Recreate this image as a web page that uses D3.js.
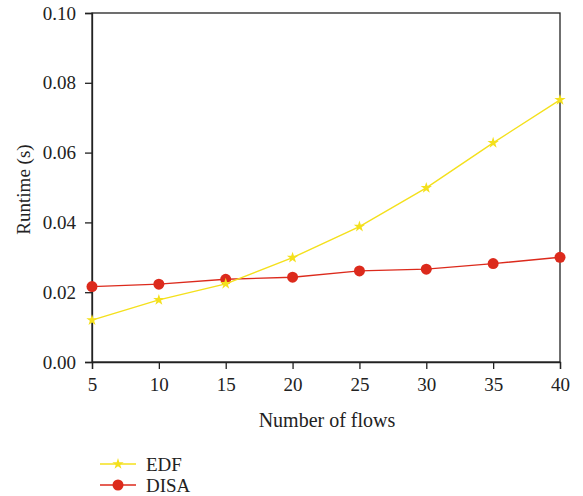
<!DOCTYPE html>
<html>
<head>
<meta charset="utf-8">
<script src="https://cdn.jsdelivr.net/npm/d3@7"></script>
<style>
  body { margin: 0; background: #fff; }
</style>
</head>
<body>
<svg id="chart"></svg>
<script>
// Chart data
const flows = [5, 10, 15, 20, 25, 30, 35, 40];
const edfRuntime = [0.0120, 0.0178, 0.0224, 0.0299, 0.0388, 0.0499, 0.0628, 0.0751];
const disaRuntime = [0.0216, 0.0223, 0.0237, 0.0243, 0.0261, 0.0266, 0.0282, 0.0300];
const yTicks = [0.00, 0.02, 0.04, 0.06, 0.08, 0.10];

const serif = '"Liberation Serif", "Times New Roman", serif';
const width = 583, height = 496;
const margin = { top: 13, right: 23, bottom: 134, left: 92 };
const innerWidth = width - margin.left - margin.right;
const innerHeight = height - margin.top - margin.bottom;

const svg = d3.select('#chart').attr('width', width).attr('height', height);
const g = svg.append('g').attr('transform', `translate(${margin.left}, ${margin.top})`);

const xScale = d3.scaleLinear().domain([5, 40]).range([0, innerWidth]);
const yScale = d3.scaleLinear().domain([0, 0.10]).range([innerHeight, 0]);

// Frame
g.append('rect')
  .attr('width', innerWidth).attr('height', innerHeight)
  .attr('fill', 'none').attr('stroke', '#222').attr('stroke-width', 1.3);

// Axes
const xAxis = g.append('g')
  .attr('transform', `translate(0, ${innerHeight})`)
  .call(d3.axisBottom(xScale).tickValues(flows).tickSize(7).tickPadding(9).tickFormat(d3.format('d')));
const yAxis = g.append('g')
  .call(d3.axisLeft(yScale).tickValues(yTicks).tickSize(7).tickPadding(9).tickFormat(d3.format('.2f')));

[xAxis, yAxis].forEach(a => {
  a.attr('font-family', serif).attr('font-size', 19);
  a.select('.domain').attr('stroke', '#222').attr('stroke-width', 1.3);
  a.selectAll('.tick line').attr('stroke', '#222').attr('stroke-width', 1.3);
  a.selectAll('text').style('font-family', serif).style('font-size', '19px').attr('fill', '#222');
});

// Axis titles
svg.append('text')
  .attr('x', margin.left + innerWidth / 2 + 1).attr('y', 427)
  .attr('text-anchor', 'middle')
  .style('font-family', serif).style('font-size', '20px').attr('fill', '#222')
  .text('Number of flows');
svg.append('text')
  .attr('transform', `translate(30, ${margin.top + innerHeight / 2 + 2}) rotate(-90)`)
  .attr('text-anchor', 'middle')
  .style('font-family', serif).style('font-size', '19px').attr('fill', '#222')
  .text('Runtime (s)');

const yellow = '#f4e01c', red = '#dc2a1c';

const line = d3.line().x((d, i) => xScale(flows[i])).y(d => yScale(d));

// DISA series
g.append('path').datum(disaRuntime).attr('d', line)
  .attr('fill', 'none').attr('stroke', red).attr('stroke-width', 1.4);
g.selectAll('.disa-dot').data(disaRuntime).enter().append('circle')
  .attr('class', 'disa-dot')
  .attr('cx', (d, i) => xScale(flows[i])).attr('cy', d => yScale(d))
  .attr('r', 5.5).attr('fill', red);

// EDF series
const star = d3.symbol().type(d3.symbolStar).size(40);
g.append('path').datum(edfRuntime).attr('d', line)
  .attr('fill', 'none').attr('stroke', yellow).attr('stroke-width', 1.4);
g.selectAll('.edf-dot').data(edfRuntime).enter().append('path')
  .attr('class', 'edf-dot')
  .attr('transform', (d, i) => `translate(${xScale(flows[i])}, ${yScale(d)})`)
  .attr('d', star).attr('fill', yellow);

// Legend
const legend = svg.append('g').attr('transform', 'translate(100, 464)');
const items = [
  { name: 'EDF', color: yellow, marker: 'star' },
  { name: 'DISA', color: red, marker: 'circle' }
];
items.forEach((it, i) => {
  const row = legend.append('g').attr('transform', `translate(0, ${i * 21})`);
  row.append('line').attr('x1', 0).attr('x2', 36).attr('y1', 0).attr('y2', 0)
    .attr('stroke', it.color).attr('stroke-width', 1.4);
  if (it.marker === 'star') {
    row.append('path').attr('transform', 'translate(18, 0)').attr('d', star).attr('fill', it.color);
  } else {
    row.append('circle').attr('cx', 18).attr('cy', 0).attr('r', 5.5).attr('fill', it.color);
  }
  row.append('text').attr('x', 46).attr('y', 6.5)
    .style('font-family', serif).style('font-size', '19px').attr('fill', '#222')
    .text(it.name);
});
</script>
</body>
</html>
